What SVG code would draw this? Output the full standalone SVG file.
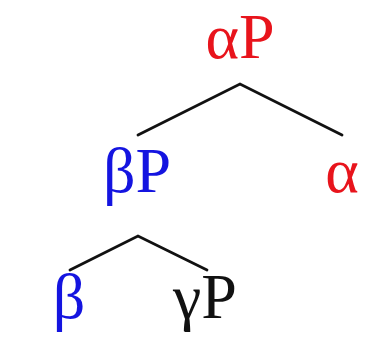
<svg xmlns="http://www.w3.org/2000/svg" width="383" height="343" viewBox="0 0 383 343">
<style>
text{font-family:"Liberation Serif","DejaVu Serif",serif;font-size:64px;text-anchor:middle}
.r{fill:#e8141c}.b{fill:#1414e0}.k{fill:#111}
.e{stroke:#111;stroke-width:2.8;fill:none;stroke-linecap:round;stroke-linejoin:miter}
</style>
<rect width="383" height="343" fill="#fff"/>
<g id="edges">
<polyline class="e" points="138,135 240,84 342,135"/>
<polyline class="e" points="70,270 138,236 207,270"/>
</g>
<g id="aP"><text class="r" x="240" y="58">αP</text></g>
<g id="bP"><text class="b" x="137" y="192">βP</text></g>
<g id="a"><text class="r" x="342" y="192">α</text></g>
<g id="b"><text class="b" x="69" y="318">β</text></g>
<g id="gP"><text class="k" x="205" y="318">γP</text></g>
</svg>
